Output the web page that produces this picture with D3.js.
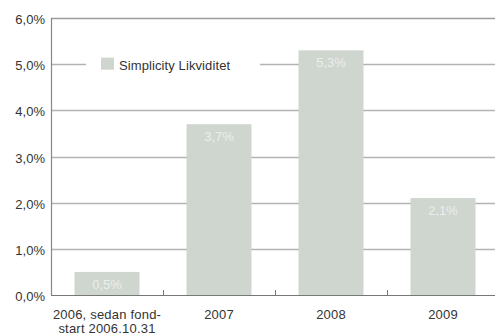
<!DOCTYPE html>
<html>
<head>
<meta charset="utf-8">
<script src="https://cdn.jsdelivr.net/npm/d3@7/dist/d3.min.js"></script>
<style>
  html, body { margin: 0; padding: 0; background: #fff; }
  svg { display: block; font-family: "Liberation Sans", Arial, sans-serif; }
</style>
</head>
<body>
<svg id="chart" width="495" height="335"></svg>
<script>
// Annual return, Simplicity Likviditet
const categories = ["2006, sedan fond-\nstart 2006.10.31", "2007", "2008", "2009"];
const values = [0.5, 3.7, 5.3, 2.1];
const yTicks = [0, 1, 2, 3, 4, 5, 6];
const seriesName = "Simplicity Likviditet";

const fmt = v => d3.format(".1f")(v).replace(".", ",") + "%";

const svg = d3.select("#chart");
const plotLeft = 51, plotRight = 499, plotTop = 18, plotBottom = 295;
const fontSize = 13;

const x = d3.scaleBand()
  .domain(categories)
  .range([plotLeft, plotRight])
  .paddingInner(0.42)
  .paddingOuter(0.21);

const y = d3.scaleLinear().domain([0, 6]).range([plotBottom, plotTop]);

// horizontal gridlines
svg.append("g")
  .selectAll("line")
  .data(yTicks.filter(d => d > 0))
  .join("line")
  .attr("x1", plotLeft).attr("x2", 495)
  .attr("y1", d => Math.round(y(d)) + 0.5)
  .attr("y2", d => Math.round(y(d)) + 0.5)
  .attr("stroke", d => d === 6 ? "#9c9c9c" : "#b3b3b3")
  .attr("stroke-width", 1.5);

// legend background covering the gridline
svg.append("rect")
  .attr("x", 86).attr("y", y(5) - 10)
  .attr("width", 174).attr("height", 20)
  .attr("fill", "#fff");

// bars
const barColor = "#cfd6cf";
svg.append("g")
  .selectAll("rect")
  .data(values)
  .join("rect")
  .attr("x", (d, i) => x(categories[i]))
  .attr("y", d => y(d))
  .attr("width", x.bandwidth())
  .attr("height", d => y(0) - y(d))
  .attr("fill", barColor);

// value labels
svg.append("g")
  .selectAll("text")
  .data(values)
  .join("text")
  .attr("x", (d, i) => x(categories[i]) + x.bandwidth() / 2)
  .attr("y", d => y(d) + 17)
  .attr("text-anchor", "middle")
  .attr("font-size", fontSize)
  .attr("fill", "#eaeeea")
  .text(d => fmt(d));

// y axis line
svg.append("line")
  .attr("x1", plotLeft + 0.5).attr("x2", plotLeft + 0.5)
  .attr("y1", plotTop).attr("y2", plotBottom)
  .attr("stroke", "#888").attr("stroke-width", 1.2);

// x axis line
svg.append("line")
  .attr("x1", plotLeft).attr("x2", 495)
  .attr("y1", plotBottom + 0.5).attr("y2", plotBottom + 0.5)
  .attr("stroke", "#777").attr("stroke-width", 1.2);

// x ticks between categories, pointing up
const step = x.step();
svg.append("g")
  .selectAll("line")
  .data(categories.slice(1))
  .join("line")
  .attr("x1", d => Math.round(x(d) - (step - x.bandwidth()) / 2) + 0.5)
  .attr("x2", d => Math.round(x(d) - (step - x.bandwidth()) / 2) + 0.5)
  .attr("y1", plotBottom - 5).attr("y2", plotBottom)
  .attr("stroke", "#777");

// y tick labels
svg.append("g")
  .selectAll("text")
  .data(yTicks)
  .join("text")
  .attr("x", 45)
  .attr("y", d => y(d) + 6)
  .attr("text-anchor", "end")
  .attr("font-size", fontSize)
  .attr("fill", "#333")
  .text(d => fmt(d));

// x tick labels (multi-line)
const xl = svg.append("g")
  .selectAll("text")
  .data(categories)
  .join("text")
  .attr("x", d => x(d) + x.bandwidth() / 2)
  .attr("y", 318.5)
  .attr("text-anchor", "middle")
  .attr("font-size", fontSize)
  .attr("letter-spacing", 0.2)
  .attr("fill", "#333");
xl.each(function(d) {
  const lines = d.split("\n");
  d3.select(this).selectAll("tspan")
    .data(lines)
    .join("tspan")
    .attr("x", x(d) + x.bandwidth() / 2)
    .attr("dy", (l, i) => i === 0 ? 0 : 14)
    .text(l => l);
});

// legend
svg.append("rect")
  .attr("x", 101).attr("y", y(5) - 6.5)
  .attr("width", 13).attr("height", 12)
  .attr("fill", barColor);
svg.append("text")
  .attr("x", 119).attr("y", y(5) + 6)
  .attr("font-size", fontSize)
  .attr("letter-spacing", 0.1)
  .attr("fill", "#333")
  .text(seriesName);
</script>
</body>
</html>
